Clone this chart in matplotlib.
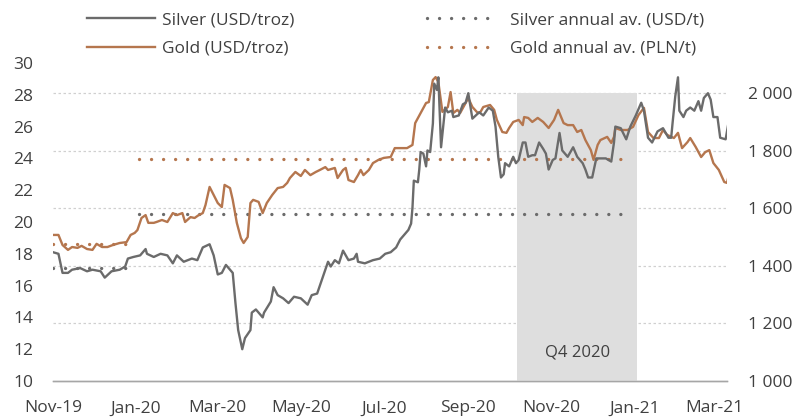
import matplotlib
matplotlib.use("Agg")
import matplotlib.pyplot as plt
import matplotlib.dates as mdates
from matplotlib.ticker import FuncFormatter
from matplotlib.lines import Line2D
import numpy as np
import pandas as pd

plt.rcParams['font.family'] = ['Open Sans', 'DejaVu Sans']

BASE = pd.Timestamp("2019-11-01")

# Silver (USD/troz): days since 2019-11-01, price
silver_day = [0, 4, 7, 11, 14, 20, 25, 29, 35, 38, 43, 49, 53, 55, 59, 64, 68, 69, 74, 79,
              84, 88, 91, 96, 102, 106, 110, 115, 118, 121, 124, 127, 132, 134, 136, 139, 141, 145, 146, 149,
              154, 155, 160, 162, 165, 169, 173, 177, 182, 187, 190, 194, 198, 202, 204, 207, 210, 213, 217, 221,
              223, 224, 229, 235, 240, 244, 248, 252, 255, 259, 261, 263, 264, 265, 268, 269, 270, 272, 274, 275,
              277, 279, 280, 282, 283, 285, 287, 288, 290, 293, 294, 298, 301, 303, 305, 308, 313, 316, 320, 323,
              325, 327, 329, 331, 332, 335, 338, 340, 342, 345, 347, 349, 352, 354, 357, 360, 362, 364, 367, 369,
              372, 374, 378, 382, 385, 389, 391, 393, 396, 399, 402, 406, 410, 412, 413, 417, 421, 424, 428, 432,
              434, 437, 440, 444, 448, 452, 454, 455, 457, 459, 460, 463, 465, 468, 471, 474, 476, 478, 481, 483,
              485, 488, 490, 494, 496]
silver_val = [18.1, 18.0, 16.8, 16.8, 17.0, 17.1, 16.9, 17.0, 16.9, 16.5, 16.9, 17.0, 17.2, 17.7, 17.8, 17.9, 18.3, 18.0, 17.8, 18.0,
              17.9, 17.4, 17.9, 17.5, 17.7, 17.6, 18.4, 18.6, 17.9, 16.7, 16.8, 17.3, 16.8, 14.9, 13.2, 12.0, 12.7, 13.2, 14.3, 14.5,
              14.0, 14.3, 15.0, 15.9, 15.4, 15.2, 14.9, 15.3, 15.2, 14.8, 15.4, 15.5, 16.5, 17.5, 17.2, 17.6, 17.4, 18.2, 17.6, 17.7,
              18.0, 17.5, 17.4, 17.6, 17.7, 18.0, 18.1, 18.4, 18.9, 19.3, 19.5, 19.9, 20.9, 22.6, 22.5, 23.3, 24.4, 24.3, 23.5, 24.5,
              24.4, 26.2, 28.7, 28.3, 29.1, 24.7, 26.4, 27.2, 26.9, 27.0, 26.6, 26.7, 27.4, 27.5, 28.1, 26.5, 26.9, 26.7, 27.2, 27.0,
              26.0, 24.1, 22.8, 23.0, 23.7, 23.5, 24.1, 23.7, 23.9, 25.0, 25.0, 24.1, 24.2, 24.2, 25.0, 24.6, 24.3, 23.3, 23.9, 24.0,
              25.6, 24.5, 24.1, 24.7, 24.1, 23.7, 23.3, 22.8, 22.8, 24.0, 24.0, 24.0, 23.8, 25.0, 26.0, 25.9, 25.2, 26.0, 26.7, 27.5,
              27.0, 25.3, 25.0, 25.7, 25.9, 25.3, 25.3, 26.2, 27.9, 29.1, 27.0, 26.6, 27.0, 27.2, 27.0, 27.6, 27.0, 27.8, 28.1, 27.7,
              26.6, 26.6, 25.3, 25.2, 26.2]

# Gold (USD/troz): days since 2019-11-01, price
gold_day = [0, 4, 7, 11, 14, 18, 21, 25, 29, 32, 36, 40, 44, 49, 54, 57, 60, 62, 65, 68,
            70, 74, 76, 80, 84, 88, 91, 95, 97, 101, 104, 107, 110, 112, 115, 118, 121, 124, 126, 130,
            132, 135, 138, 140, 143, 145, 147, 151, 154, 157, 161, 165, 169, 172, 174, 178, 182, 185, 189, 193,
            196, 200, 202, 207, 209, 213, 215, 217, 221, 224, 226, 228, 232, 235, 239, 243, 248, 251, 255, 260,
            264, 266, 270, 274, 276, 279, 281, 283, 286, 290, 292, 294, 297, 299, 303, 305, 308, 312, 314, 316,
            321, 324, 326, 330, 333, 335, 338, 342, 345, 346, 349, 352, 356, 360, 364, 368, 371, 375, 378, 382,
            385, 388, 391, 395, 397, 400, 402, 407, 410, 412, 413, 417, 422, 426, 430, 434, 437, 441, 445, 448,
            451, 456, 459, 462, 466, 468, 472, 476, 479, 482, 485, 489, 493, 495, 496]
gold_val = [1508, 1508, 1473, 1456, 1466, 1463, 1470, 1459, 1456, 1477, 1466, 1466, 1473, 1480, 1483, 1508, 1515, 1525, 1567, 1577,
            1550, 1550, 1553, 1560, 1553, 1584, 1577, 1584, 1553, 1570, 1567, 1577, 1584, 1612, 1675, 1647, 1619, 1605, 1682, 1671,
            1630, 1550, 1497, 1480, 1501, 1619, 1630, 1623, 1584, 1619, 1647, 1671, 1675, 1689, 1706, 1727, 1713, 1734, 1716, 1727,
            1734, 1744, 1734, 1741, 1706, 1734, 1741, 1699, 1692, 1716, 1734, 1716, 1734, 1758, 1769, 1776, 1779, 1810, 1810, 1810,
            1821, 1897, 1932, 1967, 1970, 2047, 2057, 2040, 1936, 1953, 2005, 1932, 1943, 1932, 1967, 1984, 1953, 1932, 1936, 1953,
            1960, 1943, 1908, 1866, 1863, 1880, 1901, 1908, 1890, 1918, 1915, 1901, 1915, 1901, 1880, 1908, 1943, 1897, 1890, 1890,
            1866, 1873, 1838, 1803, 1769, 1821, 1838, 1849, 1828, 1849, 1880, 1873, 1873, 1884, 1925, 1950, 1866, 1845, 1845, 1873,
            1856, 1845, 1863, 1810, 1831, 1845, 1814, 1779, 1796, 1803, 1758, 1734, 1692, 1689, 1710]

# Annual averages
silver_avg_periods = [("2019-11-01", "2019-12-30"), ("2020-01-03", "2020-12-28")]
silver_avg_vals = [17.13, 20.5]
gold_avg_periods = [("2019-11-01", "2019-12-30"), ("2020-01-03", "2020-12-28")]
gold_avg_vals = [1475, 1772]

q4_span = ("2020-10-07", "2021-01-03")
q4_top = 2000
q4_label = "Q4 2020"

silver_dates = BASE + pd.to_timedelta(silver_day, unit="D")
gold_dates = BASE + pd.to_timedelta(gold_day, unit="D")

SILVER = "#6b6b6b"
GOLD = "#b5764e"
TXT = "#404040"
FS = 12.5

fig = plt.figure(figsize=(7.98, 4.18), dpi=100)
ax = fig.add_axes([53/798, 1-381/418, (727-53)/798, (381-63)/418])
ax2 = ax.twinx()

ax.set_ylim(10, 30)
ax.set_yticks(np.arange(10, 31, 2))
ax.set_xlim(pd.Timestamp("2019-11-01"), pd.Timestamp("2021-03-10"))
ax2.set_ylim(1000, 2106)
ax2.set_yticks(np.arange(1000, 2001, 200))
ax2.yaxis.set_major_formatter(FuncFormatter(lambda v, p: f"{int(v):,}".replace(",", " ")))


def left_to_right(v):
    # map a left-axis (silver) value onto the right axis scale
    lo, hi = ax.get_ylim()
    lo2, hi2 = ax2.get_ylim()
    return lo2 + (v - lo) / (hi - lo) * (hi2 - lo2)


for v in range(1200, 2001, 200):
    ax2.axhline(v, color="#d0d0d0", lw=0.9, ls=(0, (2, 2)), zorder=0)

ax2.fill_between([pd.Timestamp(q4_span[0]), pd.Timestamp(q4_span[1])], 1000, q4_top,
                 color="#dedede", lw=0, zorder=1)
ax2.text(pd.Timestamp(q4_span[0]) + (pd.Timestamp(q4_span[1]) - pd.Timestamp(q4_span[0])) / 2,
         1098, q4_label, ha="center", va="center", fontsize=12, color=TXT, zorder=2)

dot = dict(lw=2.4, ls=(0, (0.01, 3.6)), dash_capstyle="round", solid_capstyle="round")
for (s, e), v in zip(silver_avg_periods, silver_avg_vals):
    ax2.plot([pd.Timestamp(s), pd.Timestamp(e)], [left_to_right(v)] * 2, color=SILVER, zorder=3, **dot)
for (s, e), v in zip(gold_avg_periods, gold_avg_vals):
    ax2.plot([pd.Timestamp(s), pd.Timestamp(e)], [v, v], color=GOLD, zorder=3, **dot)

ax2.plot(gold_dates, gold_val, color=GOLD, lw=1.7, zorder=4)
ax2.plot(silver_dates, [left_to_right(v) for v in silver_val], color=SILVER, lw=1.7, zorder=5)

for a in (ax, ax2):
    for s in ("top", "left", "right"):
        a.spines[s].set_visible(False)
    a.spines["bottom"].set_color("#a6a6a6")
    a.spines["bottom"].set_linewidth(1.0)
ax.tick_params(axis="y", length=0, pad=14, labelsize=FS, labelcolor=TXT)
ax2.tick_params(axis="y", length=0, pad=15, labelsize=FS, labelcolor=TXT)
ax.xaxis.set_major_locator(mdates.MonthLocator(bymonth=[1, 3, 5, 7, 9, 11]))
ax.xaxis.set_major_formatter(mdates.DateFormatter("%b-%y"))
ax.tick_params(axis="x", length=0, pad=14, labelsize=FS, labelcolor=TXT)
ax.set_zorder(0)
ax2.set_zorder(1)

leg_kw = dict(loc="upper left", frameon=False, fontsize=FS, handlelength=3.9,
              labelspacing=0.72, borderaxespad=0.0, borderpad=0.0)
leg1 = fig.legend([Line2D([], [], color=SILVER, lw=1.7), Line2D([], [], color=GOLD, lw=1.7)],
                  ["Silver (USD/troz)", "Gold (USD/troz)"],
                  bbox_to_anchor=(87/798, 1 - 12/418), handletextpad=0.4, **leg_kw)
leg2 = fig.legend([Line2D([], [], color=SILVER, **dot), Line2D([], [], color=GOLD, **dot)],
                  ["Silver annual av. (USD/t)", "Gold annual av. (PLN/t)"],
                  bbox_to_anchor=(427/798, 1 - 12/418), handletextpad=0.9, **leg_kw)
for lg in (leg1, leg2):
    for t in lg.get_texts():
        t.set_color(TXT)

fig.savefig("out.png", dpi=100)
